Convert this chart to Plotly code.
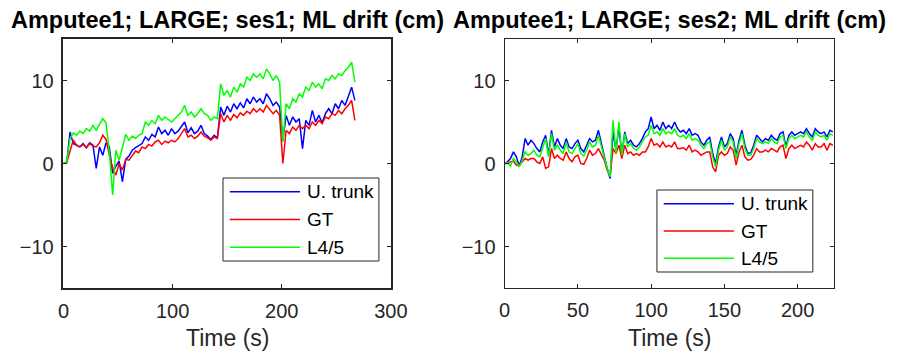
import numpy as np
import plotly.graph_objects as go

# ---------------- data ----------------
t_ses1 = list(range(0, 270, 3))
trunk_ses1 = [0.0, 0.2, 3.8, 2.4, 2.2, 2.0, 2.4, 1.9, 2.5, 2.2,
              -0.6, 2.0, 1.0, 2.5, 2.0, -1.2, -0.3, 0.3, -2.2, 0.5,
              0.9, 1.6, 1.9, 2.1, 2.4, 3.2, 2.8, 3.5, 3.2, 4.4,
              3.6, 4.0, 3.4, 4.2, 3.6, 3.9, 4.4, 5.0, 3.7, 4.3,
              3.6, 3.9, 4.6, 3.6, 3.3, 2.9, 3.4, 3.1, 6.8, 5.8,
              6.9, 6.2, 7.2, 6.6, 7.3, 6.7, 7.8, 7.2, 8.0, 7.4,
              7.8, 7.2, 8.4, 7.8, 7.0, 7.4, 6.8, 2.8, 5.8, 4.6,
              5.6, 5.0, 5.4, 1.8, 5.2, 4.6, 6.4, 5.0, 5.8, 4.9,
              6.0, 6.6, 6.0, 7.2, 6.6, 7.6, 7.0, 8.2, 9.2, 7.6]
gt_ses1 = [0.0, 0.1, 1.5, 2.8, 2.2, 2.0, 2.3, 1.9, 2.4, 2.1,
           2.0, 2.5, 3.4, 2.9, 1.0, -0.5, -1.4, 0.0, -0.8, 0.5,
           0.4, 1.0, 1.5, 1.3, 2.0, 1.8, 2.3, 2.1, 2.6, 2.8,
           2.3, 2.7, 2.5, 2.8, 2.6, 3.0, 3.6, 4.2, 3.2, 3.4,
           3.0, 3.3, 3.8, 3.3, 3.1, 2.8, 3.2, 3.0, 6.0, 5.0,
           5.8, 5.2, 5.9, 5.5, 6.1, 5.8, 6.3, 6.0, 6.6, 6.2,
           6.6, 6.2, 7.0, 6.5, 6.0, 6.4, 5.8, 0.0, 4.0, 3.6,
           4.4, 4.0, 4.6, 4.2, 4.6, 4.2, 5.0, 4.6, 5.2, 4.8,
           5.6, 5.4, 6.0, 5.8, 6.4, 6.0, 6.6, 7.0, 7.6, 5.2]
l45_ses1 = [0.0, 0.2, 3.0, 3.7, 3.4, 3.9, 3.6, 4.2, 3.9, 4.6,
            4.0, 4.8, 5.4, 4.9, 1.4, -3.8, 1.6, 0.4, 1.8, 3.5,
            2.8, 3.3, 3.0, 3.4, 3.6, 5.0, 4.6, 5.2, 4.8, 5.8,
            5.2, 5.6, 5.3, 5.0, 5.4, 5.8, 6.2, 7.0, 5.8, 6.2,
            5.6, 6.0, 6.6, 6.0, 5.8, 5.2, 5.6, 5.4, 9.6, 8.2,
            8.8, 8.0, 9.2, 8.6, 9.6, 9.2, 10.4, 10.0, 10.8, 10.4,
            10.8, 10.2, 11.4, 10.8, 10.0, 10.6, 9.8, 2.6, 7.2, 6.6,
            7.8, 7.4, 8.4, 8.0, 9.2, 8.8, 9.8, 9.2, 9.6, 9.0,
            10.2, 10.0, 10.6, 10.2, 10.8, 10.6, 11.2, 11.6, 12.2, 9.8]

t_ses2 = list(range(0, 226, 2))
trunk_ses2 = [0.0, 0.2, 0.6, 1.4, 0.8, -0.3, 0.8, 3.0, 2.2, 2.8,
              2.4, 1.8, 1.4, 2.6, 3.4, 1.0, 4.0, 2.0, 3.0, 2.2,
              1.8, 3.0, 2.0, 1.8, 2.4, 2.8, 1.8, 1.4, 2.2, 3.0,
              2.6, 2.8, 4.0, 2.6, 0.9, -0.6, -1.8, 3.8, 1.6, 4.4,
              1.0, 3.8, 2.4, 2.8, 2.2, 2.0, 2.4, 3.0, 3.8, 4.2,
              5.6, 4.2, 4.6, 4.0, 5.0, 4.2, 4.6, 4.2, 5.0, 4.2,
              3.8, 4.0, 3.6, 4.2, 3.4, 3.6, 3.4, 2.6, 2.2, 2.8,
              3.2, 1.2, 0.0, 2.0, 3.2, 2.0, 2.4, 3.6, 3.0, 1.0,
              2.8, 4.0, 2.2, 1.2, 1.3, 2.2, 3.4, 3.0, 2.6, 3.0,
              2.8, 3.4, 3.0, 2.8, 3.6, 3.8, 2.0, 3.4, 3.8, 3.4,
              3.6, 3.8, 3.6, 4.2, 3.6, 3.2, 4.2, 3.8, 3.6, 3.8,
              3.2, 4.0, 3.8]
gt_ses2 = [0.0, 0.0, 0.2, 0.3, -0.2, -0.3, 0.2, 0.6, 0.4, 0.6,
           0.6, 0.2, 0.0, 0.8, -0.6, -0.4, 1.8, 0.6, 1.0, 0.6,
           0.4, 1.4, 0.6, 0.2, 0.8, 1.0, 0.0, -0.1, 0.6, 1.6,
           1.0, 1.2, 1.8, 1.0, 0.4, -0.8, -1.4, 1.8, 1.2, 2.2,
           0.6, 2.2, 1.2, 1.4, 1.0, 1.2, 1.0, 1.4, 1.4, 2.0,
           3.0, 2.2, 2.4, 2.0, 2.6, 2.0, 2.2, 2.0, 2.6, 1.8,
           1.8, 1.9, 1.6, 2.2, 1.4, 1.6, 1.4, 1.0, 1.2, 1.4,
           1.4, -0.4, -1.0, 1.0, 1.4, 1.0, 1.2, 2.0, 1.6, -0.2,
           1.4, 2.2, 0.8, 0.4, 0.5, 1.0, 1.8, 1.4, 1.4, 1.6,
           1.4, 1.8, 1.6, 1.4, 2.0, 2.2, 0.6, 1.8, 2.2, 1.8,
           2.0, 2.2, 2.0, 2.6, 2.2, 1.6, 2.4, 2.0, 2.0, 2.4,
           1.6, 2.4, 2.2]
l45_ses2 = [0.0, 0.1, -0.3, 0.6, 0.2, -0.4, 0.4, 1.4, 1.0, 1.2,
            1.6, 1.0, 0.8, 1.8, 3.0, 0.8, 3.6, 1.6, 2.2, 1.6,
            1.2, 2.6, 1.4, 1.2, 1.8, 2.4, 1.2, 0.9, 1.6, 2.6,
            2.0, 2.2, 3.4, 2.0, 0.8, -0.6, -1.6, 5.2, 1.2, 5.0,
            1.0, 3.6, 2.0, 2.4, 1.8, 1.6, 2.0, 2.6, 3.2, 3.4,
            4.6, 3.6, 3.8, 3.4, 4.2, 3.6, 3.8, 3.6, 4.2, 3.4,
            3.2, 3.4, 3.0, 3.6, 2.8, 3.0, 2.8, 2.2, 1.8, 2.4,
            2.6, 0.8, -0.4, 1.6, 2.8, 1.6, 2.0, 3.2, 2.6, 0.6,
            2.4, 3.6, 1.8, 1.0, 1.0, 1.8, 3.0, 2.6, 2.4, 2.6,
            2.4, 3.0, 2.6, 2.4, 3.2, 3.4, 1.8, 3.0, 3.4, 3.0,
            3.2, 3.4, 3.2, 3.8, 3.2, 2.8, 3.8, 3.4, 3.2, 3.4,
            2.8, 3.6, 3.4]

series_names = ["U. trunk", "GT", "L4/5"]
series_colors = ["rgb(0,0,255)", "rgb(255,0,0)", "rgb(0,255,0)"]
titles = ["Amputee1; LARGE; ses1; ML drift (cm)", "Amputee1; LARGE; ses2; ML drift (cm)"]
x_ticks_1 = [0, 100, 200, 300]
x_ticks_2 = [0, 50, 100, 150, 200]
y_ticks = [-10, 0, 10]

# ---------------- layout helpers ----------------
W, H = 900, 356
def px(x):
    return x / W
def py(y):
    return 1 - y / H

dom1 = [px(59), px(395)]
dom2 = [px(511.7), px(850)]
ydom = [py(288), py(39)]

fig = go.Figure()
sessions = [
    (t_ses1, [trunk_ses1, gt_ses1, l45_ses1], "x", "y"),
    (t_ses2, [trunk_ses2, gt_ses2, l45_ses2], "x2", "y2"),
]
for t, ys, xa, ya in sessions:
    for name, col, yv in zip(series_names, series_colors, ys):
        fig.add_trace(go.Scatter(x=t, y=yv, mode="lines", name=name,
                                 line=dict(color=col, width=1.5),
                                 xaxis=xa, yaxis=ya, showlegend=False,
                                 hoverinfo="skip"))

axis_col = "#262626"
font_family = "Liberation Sans, Arial, sans-serif"
common_ax = dict(showgrid=False, zeroline=False, showline=True, mirror="ticks",
                 ticks="inside", ticklen=4, tickcolor=axis_col, linecolor=axis_col,
                 tickfont=dict(family=font_family, size=20, color=axis_col))

fig.update_layout(
    width=W, height=H, margin=dict(l=0, r=0, t=0, b=0),
    paper_bgcolor="white", plot_bgcolor="rgba(0,0,0,0)",
    xaxis=dict(domain=dom1, range=[0, 300], tickvals=x_ticks_1, anchor="y",
               linewidth=1.5, ticklabelstandoff=4, **common_ax),
    yaxis=dict(domain=ydom, range=[-15, 15], tickvals=y_ticks, anchor="x",
               linewidth=1.5, ticklabelstandoff=4, **common_ax),
    xaxis2=dict(domain=dom2, range=[0, 225], tickvals=x_ticks_2, anchor="y2",
                linewidth=1, ticklabelstandoff=4, **common_ax),
    yaxis2=dict(domain=ydom, range=[-15, 15], tickvals=y_ticks, anchor="x2",
                linewidth=1, ticklabelstandoff=4, **common_ax),
    # overlay axis in pixel units used only for the hand-drawn legends
    xaxis3=dict(domain=[0, 1], range=[0, W], visible=False, fixedrange=True, anchor="y3"),
    yaxis3=dict(domain=[0, 1], range=[H, 0], visible=False, fixedrange=True, anchor="x3"),
)

# titles and x labels
for dom, title in zip([dom1, dom2], titles):
    cx = (dom[0] + dom[1]) / 2
    fig.add_annotation(x=cx, y=py(20), xref="paper", yref="paper", text="<b>" + title + "</b>",
                       showarrow=False, xanchor="center", yanchor="middle",
                       font=dict(family=font_family, size=23.5, color="black"))
    fig.add_annotation(x=cx, y=py(338), xref="paper", yref="paper", text="Time (s)",
                       showarrow=False, xanchor="center", yanchor="middle",
                       font=dict(family=font_family, size=23, color=axis_col))

# manual legends (MATLAB style, long sample lines)
legend_boxes = [(222.7, 178, 382.7, 261), (668, 190, 828, 272)]
for (x0, y0, x1, y1) in legend_boxes:
    fig.add_trace(go.Scatter(x=[x0, x1, x1, x0, x0], y=[y0, y0, y1, y1, y0],
                             mode="lines", fill="toself", fillcolor="white",
                             line=dict(color=axis_col, width=1),
                             xaxis="x3", yaxis="y3", showlegend=False, hoverinfo="skip"))
    rowh = (y1 - y0) / 3
    for i, (name, col) in enumerate(zip(series_names, series_colors)):
        yc = y0 + rowh * (i + 0.5)
        fig.add_trace(go.Scatter(x=[x0 + 7, x0 + 79], y=[yc, yc], mode="lines",
                                 line=dict(color=col, width=1.5),
                                 xaxis="x3", yaxis="y3", showlegend=False, hoverinfo="skip"))
        fig.add_annotation(x=x0 + 84, y=yc, xref="x3", yref="y3", text=name,
                           showarrow=False, xanchor="left", yanchor="middle",
                           font=dict(family=font_family, size=19, color="black"))

fig.write_html("out.html")
